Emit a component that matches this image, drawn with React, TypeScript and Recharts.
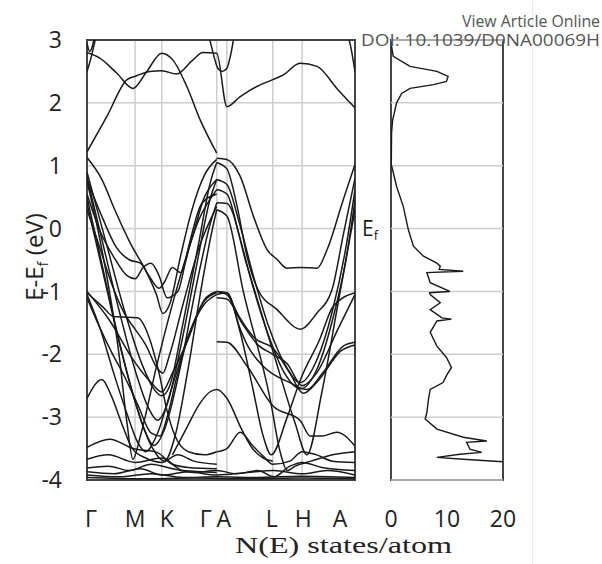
import React from 'react';
import { CartesianGrid, Line, LineChart, ReferenceArea, ReferenceLine, XAxis, YAxis } from 'recharts';

// high-symmetry path (k in arbitrary path-length units)
const symK = [0, 0.9, 1.4, 2.43, 2.62, 3.48, 4.03, 5.02];
const symLabels = ['Γ', 'M', 'K', 'Γ', 'A', 'L', 'H', 'A'];
const eTicks = [-4, -3, -2, -1, 0, 1, 2, 3];
const dosTicks = [0, 10, 20];

// bands as [k, E-Ef] pairs
const c1 = [[0, 2.8], [0.24, 2.71], [0.56, 2.47], [0.86, 2.23], [1.12, 2.5], [1.4, 2.79], [1.61, 2.68], [1.87, 2.26], [2.12, 1.73], [2.43, 1.2]];
const c2 = [[0, 1.22], [0.37, 1.78], [0.75, 2.37], [0.93, 2.43], [1.18, 2.5], [1.4, 2.51], [1.68, 2.46], [1.98, 2.68], [2.17, 2.8], [2.43, 2.79], [2.62, 1.94], [2.87, 2.1], [3.18, 2.26], [3.48, 2.37], [3.67, 2.44], [3.99, 2.63], [4.31, 2.58], [4.68, 2.23], [5.02, 1.92]];
const c3 = [[0, 2.5], [0.07, 2.7], [0.14, 2.95], [0.2, 3.2]];
const c3b = [[0, 2.95], [0.05, 2.82], [0.1, 2.9], [0.15, 3.1]];
const c4 = [[2.25, 3.2], [2.36, 2.8], [2.45, 2.55], [2.53, 2.5], [2.62, 2.55], [2.7, 2.8], [2.78, 3.2]];
const c5 = [[4.85, 3.2], [4.95, 2.85], [5.02, 2.5]];

const v1 = [[0, 1.13], [0.28, 0.78], [0.52, 0.3], [0.84, -0.28], [1.09, -0.65], [1.3, -1.05], [1.42, -1.35], [1.55, -1.2], [1.75, -0.45], [1.95, 0.25], [2.2, 0.85], [2.43, 1.1]];
const v2 = [[0, 0.9], [0.35, -0.2], [0.7, -1.3], [1.05, -2.2], [1.25, -2.55], [1.4, -2.66], [1.55, -2.5], [1.8, -1.5], [2.1, -0.2], [2.3, 0.7], [2.43, 1.05]];
const v3 = [[0, 0.82], [0.3, -0.25], [0.6, -1.3], [0.9, -2.25], [1.15, -2.85], [1.32, -3.05], [1.5, -2.8], [1.75, -1.9], [2.05, -0.6], [2.3, 0.45], [2.43, 0.78]];
const v4 = [[0, 0.75], [0.2, 0], [0.4, -0.9], [0.6, -2.0], [0.75, -3.1], [0.86, -3.67], [1.0, -3.3], [1.3, -2.2], [1.7, -0.9], [2.1, 0.15], [2.43, 0.62]];
const v5 = [[0, 0.5], [0.25, -0.45], [0.55, -1.6], [0.85, -2.6], [1.1, -3.25], [1.25, -3.45], [1.45, -3.2], [1.75, -2.2], [2.05, -0.9], [2.3, 0.05], [2.43, 0.41]];
const v6 = [[0, 0.4], [0.3, -0.7], [0.6, -1.8], [0.9, -2.75], [1.2, -3.45], [1.45, -3.7], [1.65, -3.3], [1.9, -2.2], [2.15, -0.9], [2.35, 0], [2.43, 0.3]];
const v7 = [[0, -1.0], [0.43, -1.47], [0.86, -2.08], [1.2, -2.45], [1.4, -2.6], [1.6, -2.3], [1.87, -1.81], [2.2, -1.13], [2.43, -1.0]];
const v8 = [[0, -1.02], [0.3, -1.25], [0.5, -1.4], [0.95, -1.42], [1.15, -1.7], [1.35, -2.3], [1.5, -2.9], [1.65, -3.3], [1.9, -3.55], [2.2, -3.6], [2.43, -3.55]];
const v9 = [[0, -1.05], [0.25, -1.6], [0.5, -2.3], [0.75, -2.95], [0.95, -3.4], [1.1, -3.55], [1.3, -3.3], [1.6, -2.5], [1.9, -1.7], [2.2, -1.15], [2.43, -1.02]];
const v10 = [[0, -1.1], [0.2, -1.5], [0.45, -1.95], [0.7, -2.35], [0.95, -2.8], [1.2, -3.25], [1.37, -3.3], [1.5, -3.0], [1.7, -2.3], [1.95, -1.6], [2.2, -1.2], [2.43, -1.05]];
const v11 = [[0, 0.3], [0.2, -0.2], [0.45, -0.85], [0.7, -1.35], [0.9, -1.6], [1.1, -1.85], [1.3, -2.2], [1.42, -2.3], [1.55, -2.0], [1.8, -1.2], [2.1, -0.3], [2.43, 0.35]];
const w1 = [[0, 0.55], [0.25, -0.05], [0.5, -0.45], [0.75, -0.75], [0.9, -0.8], [1.05, -0.62], [1.2, -0.55], [1.35, -0.75], [1.5, -1.1], [1.7, -1.0], [1.9, -0.3], [2.15, 0.4], [2.43, 0.55]];
const w2 = [[0, 0.78], [0.3, 0.15], [0.55, -0.3], [0.8, -0.5], [1.0, -0.55], [1.16, -0.75], [1.35, -0.95], [1.45, -0.85], [1.6, -0.62], [1.75, -0.7], [1.95, -0.2], [2.2, 0.5], [2.43, 0.78]];
const l1 = [[0, -2.7], [0.28, -2.4], [0.45, -2.65], [0.65, -3.1], [0.85, -3.5], [1.1, -3.65], [1.4, -3.72], [1.7, -3.6], [2.0, -3.7], [2.43, -3.75]];
const l2 = [[0, -3.48], [0.43, -3.35], [0.86, -3.5], [1.31, -3.56], [1.6, -3.75], [1.9, -3.8], [2.43, -3.82]];
const l3 = [[0, -3.67], [0.4, -3.6], [0.9, -3.72], [1.4, -3.65], [1.8, -3.85], [2.43, -3.88]];
const s1 = [[1.6, -3.6], [1.85, -3.2], [2.1, -2.8], [2.3, -2.6], [2.43, -2.56], [2.62, -2.7], [2.9, -3.2], [3.1, -3.5], [3.3, -3.65], [3.48, -3.7]];

const h1 = [[2.43, 1.12], [2.62, 1.1], [2.87, 0.83], [3.12, 0.19], [3.37, -0.33], [3.56, -0.49], [3.74, -0.63], [4.0, -0.62], [4.31, -0.63], [4.5, -0.33], [4.8, 0.46], [5.02, 1.02]];
const h2 = [[2.43, 1.05], [2.62, 0.95], [2.8, 0.4], [3.0, -0.45], [3.2, -0.97], [3.56, -1.29], [4.0, -1.6], [4.3, -1.35], [4.59, -0.97], [4.8, -0.1], [5.02, 0.8]];
const h3 = [[2.43, 0.78], [2.62, 0.7], [2.85, 0.1], [3.1, -0.7], [3.4, -1.55], [3.7, -2.15], [4.0, -2.45], [4.3, -2.1], [4.6, -1.3], [4.85, -0.3], [5.02, 0.62]];
const h4 = [[2.43, 0.62], [2.62, 0.55], [2.85, -0.1], [3.1, -0.9], [3.4, -1.7], [3.7, -2.3], [4.0, -2.55], [4.3, -2.25], [4.6, -1.45], [4.85, -0.5], [5.02, 0.45]];
const h5 = [[2.43, 0.41], [2.62, 0.4], [3.0, -0.6], [3.5, -2.0], [3.9, -3.1], [4.12, -3.6], [4.4, -2.6], [4.7, -1.2], [5.02, 0.3]];
const h6 = [[2.43, -1.0], [2.62, -1.02], [2.87, -1.65], [3.11, -2.56], [3.3, -3.3], [3.45, -3.6], [3.75, -3.0], [4.0, -2.4], [4.36, -1.76], [4.61, -1.24], [5.02, -1.02]];
const h7 = [[2.43, -1.05], [2.62, -1.02], [2.87, -1.6], [3.0, -1.85], [3.3, -2.19], [3.8, -2.45], [4.12, -2.56], [4.42, -2.29], [4.8, -1.87], [5.02, -1.81]];
const h8 = [[2.43, -1.8], [2.62, -1.81], [3.0, -2.19], [3.48, -2.82], [4.0, -3.06], [4.18, -3.3], [4.4, -3.3], [4.68, -3.24], [5.02, -3.46]];
const h9 = [[2.43, -3.55], [2.62, -3.5], [2.87, -3.24], [3.1, -3.45], [3.3, -3.62], [3.48, -3.75], [3.8, -3.7], [4.03, -3.55], [4.3, -3.6], [4.6, -3.7], [5.02, -3.72]];
const h10 = [[2.43, 0.3], [2.62, 0.2], [2.92, -0.97], [3.43, -2.71], [3.62, -3.56], [3.75, -3.85], [3.9, -3.78], [4.2, -3.7], [4.6, -3.6], [5.02, -3.55]];
const h11 = [[2.43, -1.1], [2.62, -1.12], [2.9, -1.5], [3.2, -1.85], [3.48, -2.0], [3.75, -2.15], [4.03, -2.5], [4.3, -2.3], [4.7, -1.6], [5.02, -1.05]];
const h12 = [[2.43, -1.0], [2.62, -1.05], [2.85, -1.4], [3.15, -1.75], [3.48, -1.9], [3.8, -2.3], [4.05, -2.62], [4.35, -2.4], [4.75, -1.95], [5.02, -1.85]];

const b1 = [[0, -3.81], [0.4, -3.78], [0.8, -3.85], [1.2, -3.75], [1.6, -3.82], [2.0, -3.88], [2.43, -3.85], [2.8, -3.9], [3.2, -3.85], [3.5, -3.95], [3.8, -3.78], [4.03, -3.72], [4.4, -3.8], [5.02, -3.85]];
const b2 = [[0, -3.87], [0.5, -3.9], [1.0, -3.82], [1.4, -3.92], [1.9, -3.87], [2.43, -3.92], [3.0, -3.88], [3.5, -3.85], [4.03, -3.9], [4.5, -3.85], [5.02, -3.92]];
const b3 = [[0, -3.92], [0.6, -3.95], [1.2, -3.9], [1.8, -3.96], [2.43, -3.95], [3.2, -3.96], [4.0, -3.94], [5.02, -3.96]];
const b4 = [[0, -3.96], [1.0, -3.98], [2.0, -3.97], [3.0, -3.98], [4.0, -3.97], [5.02, -3.98]];

const bands = [c1, c2, c3, c3b, c4, c5, v1, v2, v3, v4, v5, v6, v7, v8, v9, v10, v11, w1, w2, l1, l2, l3, s1,
  h1, h2, h3, h4, h5, h6, h7, h8, h9, h10, h11, h12, b1, b2, b3, b4];

// density of states
const dosE = [2.95, 2.9, 2.74, 2.58, 2.5, 2.42, 2.34, 2.29, 2.23, 2.15, 2.0, 1.73, 1.52, 1.02, 0.67, 0.35, -0.02, -0.28, -0.44, -0.55,
  -0.6, -0.65, -0.68, -0.7, -0.86, -1.0, -1.02, -1.05, -1.18, -1.29, -1.42, -1.44, -1.47, -1.65, -1.87, -2.05, -2.21, -2.34, -2.45, -2.56,
  -2.71, -2.93, -3.03, -3.19, -3.32, -3.38, -3.4, -3.51, -3.56, -3.59, -3.64, -3.67, -3.72];
const dosN = [0, 0.1, 0.4, 3.4, 8.2, 10.2, 9.9, 7.6, 3.4, 1.9, 1.0, 0.3, 0.1, 0.05, 1.0, 2.2, 3.1, 4.0, 5.8, 8.2,
  8.8, 8.6, 12.9, 6.4, 7.0, 10.5, 6.9, 7.0, 8.8, 7.0, 9.1, 10.8, 8.2, 7.0, 8.2, 9.9, 10.8, 9.9, 9.3, 7.0,
  6.7, 6.4, 6.1, 8.2, 12.9, 17.1, 13.5, 14.1, 16.2, 12.3, 8.2, 12.9, 22];

const font = '"Open Sans", sans-serif';
const tickStyle = { fontSize: 23, fill: '#222', fontFamily: font };
const labelShift = [4, 0, 5, -11, -3, -1, 1, -15];

const BandTick = (props: any) => {
  const { x, y, payload } = props;
  const i = symK.indexOf(payload.value);
  return (
    <text x={x + (labelShift[i] ?? 0)} y={y} dy="0.71em" textAnchor="middle" {...tickStyle}>
      {symLabels[i]}
    </text>
  );
};

export default function App() {
  const dos = dosE.map((e, i) => ({ e, n: dosN[i] }));
  return (
    <div style={{ position: 'absolute', left: 0, top: 0, width: 602, height: 564, background: '#fff', overflow: 'hidden' }}>
      <div style={{ position: 'absolute', left: 532, top: 0, width: 1, height: 564, background: '#eeeeee' }} />
      <div style={{ position: 'absolute', left: 0, top: 0 }}>
        <LineChart width={360} height={564} margin={{ top: 40, right: 5, bottom: 0, left: 0 }}>
          <CartesianGrid stroke="#cdcdcd" strokeWidth={1.5} />
          <XAxis type="number" dataKey="k" domain={[0, 5.02]} ticks={symK} interval={0} allowDataOverflow
            height={84} tick={<BandTick />} tickLine={false} axisLine={false} tickMargin={25} />
          <YAxis type="number" domain={[-4, 3]} ticks={eTicks} interval={0} allowDataOverflow width={87}
            tickLine={false} axisLine={false} tickMargin={19} tick={tickStyle} />
          {bands.map((b, i) => (
            <Line key={i} data={b.map(([k, e]) => ({ k, e }))} dataKey="e" type="monotone"
              stroke="#1a1a1a" strokeWidth={1.5} dot={false} isAnimationActive={false} />
          ))}
          <ReferenceArea x1={0} x2={5.02} y1={-4} y2={3} fill="none" fillOpacity={0} stroke="#444" strokeWidth={2} />
        </LineChart>
      </div>
      <div style={{ position: 'absolute', left: 360, top: 0 }}>
        <LineChart layout="vertical" width={172} height={564} data={dos} margin={{ top: 40, right: 29, bottom: 0, left: 31 }}>
          {eTicks.map((v) => (
            <ReferenceLine key={v} y={v} stroke="#cdcdcd" strokeWidth={1.5} />
          ))}
          <XAxis type="number" domain={[0, 20]} ticks={dosTicks} interval={0} allowDataOverflow height={84}
            tickLine={false} axisLine={false} tickMargin={25} tick={tickStyle} />
          <YAxis type="number" dataKey="e" domain={[-4, 3]} ticks={eTicks} allowDataOverflow reversed hide />
          <Line dataKey="n" type="linear" stroke="#1a1a1a" strokeWidth={1.4} dot={false} isAnimationActive={false} />
          <ReferenceArea x1={0} x2={20} y1={-4} y2={3} fill="none" fillOpacity={0} stroke="#444" strokeWidth={2} />
        </LineChart>
      </div>
      <svg width={602} height={564} style={{ position: 'absolute', left: 0, top: 0, pointerEvents: 'none' }}>
        <text transform="translate(43,257) rotate(-90)" textAnchor="middle" fontSize={24} fontFamily={font} fill="#222">
          E-E<tspan dy={5} fontSize={15}>f</tspan><tspan dy={-5}> (eV)</tspan>
        </text>
        <text x={362} y={236} fontSize={21} fontFamily={font} fill="#222">
          E<tspan dy={4} fontSize={13}>f</tspan>
        </text>
        <text x={235} y={553} fontSize={23} fontFamily='"Liberation Serif", serif' fill="#222"
          textLength={217} lengthAdjust="spacingAndGlyphs">N(E) states/atom</text>
        <text x={462} y={27} fontSize={16} fontFamily={font} fill="#555" textLength={138} lengthAdjust="spacingAndGlyphs">
          View Article Online
        </text>
        <text x={361} y={46} fontSize={17} fontFamily={font} fill="#555" textLength={239} lengthAdjust="spacingAndGlyphs">
          DOI: 10.1039/D0NA00069H
        </text>
      </svg>
    </div>
  );
}
